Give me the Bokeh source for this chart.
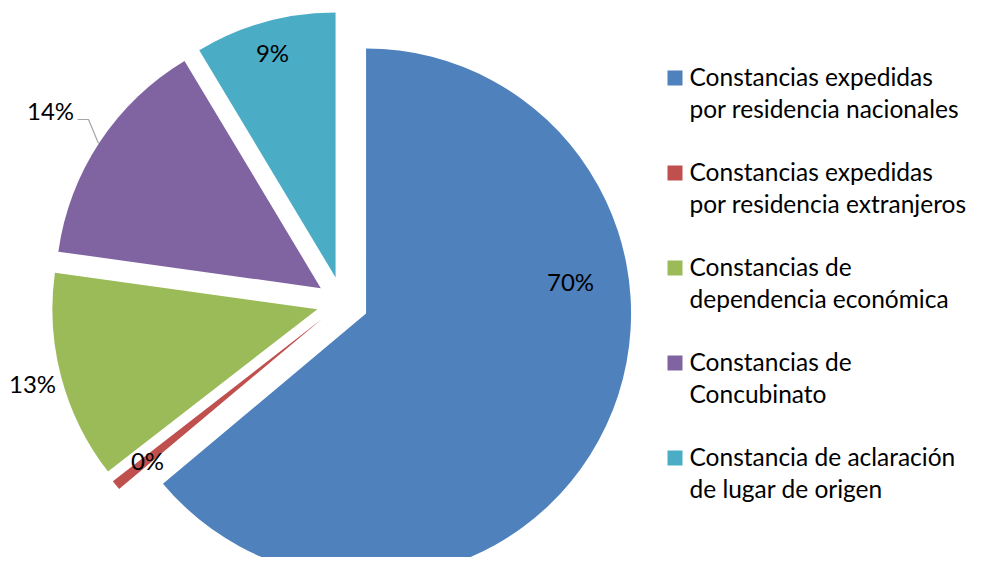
import math
from bokeh.plotting import figure
from bokeh.models import Range1d, ColumnDataSource
from bokeh.core.properties import value
from bokeh.embed import file_html
from bokeh.resources import INLINE

# ---------------- data ----------------
categories = [
    "Constancias expedidas\npor residencia nacionales",
    "Constancias expedidas\npor residencia extranjeros",
    "Constancias de\ndependencia económica",
    "Constancias de\nConcubinato",
    "Constancia de aclaración\nde lugar de origen",
]
shares = [63.9, 0.6, 12.7, 14.2, 8.6]          # slice sizes as drawn
pct_labels = ["70%", "0%", "13%", "14%", "9%"]   # labels as printed
colors = ["#4F81BD", "#C0504D", "#9BBB59", "#8064A2", "#4BACC6"]

# ---------------- layout (screen px, y downward) ----------------
W, H = 983, 573
M = 8
FW, FH = W - 2 * M, H - 2 * M
CX, CY = 342, 302
R = 265
EXPLODE = 26
FONT = "Lato"
FS_LAB = "24px"
FS_LEG = "24.5px"
TEXT_SHIFT = -10   # compensate renderer baseline offset

# label positions (screen coords: center x, baseline y)
label_pos = [(570, 291), (147, 470), (32, 393), (50, 120), (272, 62)]
leader = [(77, 119), (88, 119), (98, 143)]

def sy(y):
    return -y

p = figure(width=FW, height=FH, output_backend="svg", toolbar_location=None,
           x_range=Range1d(0, FW), y_range=Range1d(-FH, 0),
           min_border=0)
p.xaxis.visible = False
p.yaxis.visible = False
p.grid.visible = False
p.outline_line_color = None
p.background_fill_color = "white"
p.border_fill_color = "white"

total = sum(shares)
xs, ys, sa, ea = [], [], [], []
cum = 0.0
for s in shares:
    t1 = cum / total * 360.0
    t2 = (cum + s) / total * 360.0
    cum += s
    mid = math.radians(90 - (t1 + t2) / 2)
    xs.append(CX + EXPLODE * math.cos(mid))
    ys.append(sy(CY) + EXPLODE * math.sin(mid))
    sa.append(math.radians(90 - t2))
    ea.append(math.radians(90 - t1))

src = ColumnDataSource(dict(x=xs, y=ys, sa=sa, ea=ea, color=colors))
p.wedge(x="x", y="y", radius=R, start_angle="sa", end_angle="ea",
        fill_color="color", line_color=None, source=src)

# leader line for 14%
p.line([q[0] for q in leader], [sy(q[1]) for q in leader],
       line_color="#A6A6A6", line_width=1.2)

# data labels
p.text(x=[q[0] for q in label_pos],
       y=[sy(q[1] + TEXT_SHIFT) for q in label_pos],
       text=pct_labels, text_align="center", text_baseline="alphabetic",
       text_font=value(FONT), text_font_size=FS_LAB, text_color="black")

# legend
LX_SQ, LX_TX = 674.5, 689
BASE0, STEP, LINEGAP = 86, 95, 32
sq_x, sq_y, tx, ty, tt = [], [], [], [], []
for i, cat in enumerate(categories):
    b = BASE0 + i * STEP
    sq_x.append(LX_SQ)
    sq_y.append(sy(b - 8.5))
    for j, line in enumerate(cat.split("\n")):
        tx.append(LX_TX)
        ty.append(sy(b + j * LINEGAP + TEXT_SHIFT))
        tt.append(line)
p.rect(x=sq_x, y=sq_y, width=15, height=15, fill_color=colors, line_color=None)
p.text(x=tx, y=ty, text=tt, text_align="left", text_baseline="alphabetic",
       text_font=value(FONT), text_font_size=FS_LEG, text_color="black")

open("out.html", "w").write(file_html(p, INLINE))
